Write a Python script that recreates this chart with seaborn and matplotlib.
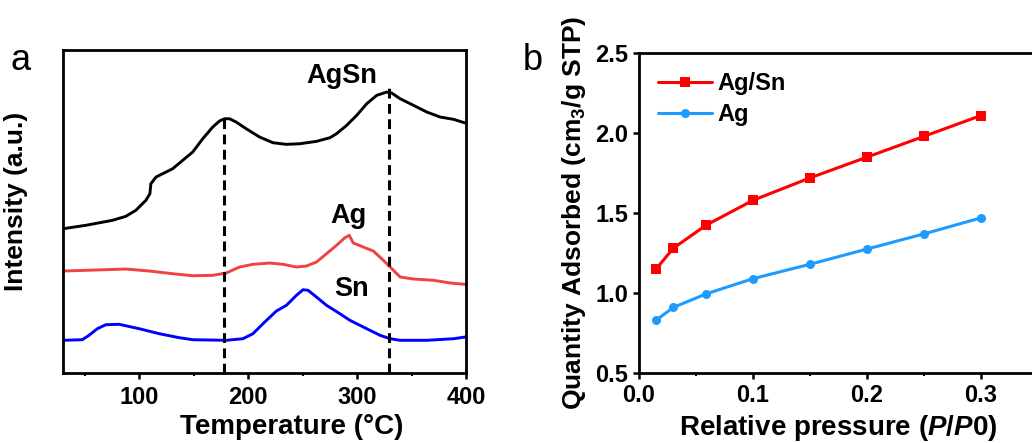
import matplotlib
matplotlib.use("Agg")
import matplotlib.pyplot as plt
import seaborn as sns
import numpy as np
import pandas as pd

# ---------------- data: panel a (TPD, arbitrary units) ----------------
agsn_temp = [30.0, 50.9, 75.4, 87.7, 96.9, 106.1, 109.8, 110.7, 115.4, 124.6, 130.7, 139.9,
             149.1, 158.3, 167.5, 173.7, 178.3, 182.9, 189.0, 198.2, 210.5, 222.8, 235.1,
             247.4, 262.7, 275.0, 281.1, 290.4, 299.6, 308.8, 318.0, 327.2, 331.8, 339.5,
             351.8, 364.0, 376.3, 388.6, 399.4]
agsn_int = [144.3, 147.7, 152.7, 156.7, 162.7, 172.7, 179.3, 189.3, 196.0, 201.0, 204.3, 212.7,
            221.0, 234.3, 246.0, 252.0, 254.3, 254.3, 251.0, 244.3, 236.0, 230.3, 228.7,
            229.3, 231.7, 235.3, 239.3, 247.7, 257.7, 269.3, 277.7, 281.0, 280.0, 274.3,
            267.7, 261.0, 256.0, 253.7, 250.0]

ag_temp = [30.0, 50.9, 87.7, 109.2, 130.7, 149.1, 167.5, 179.8, 192.1, 204.4, 219.7, 232.0,
           244.3, 253.5, 262.7, 271.9, 281.1, 288.8, 292.8, 296.5, 305.7, 314.9, 324.1, 330.3,
           339.5, 351.8, 370.2, 385.6, 399.4]
ag_int = [102.0, 102.7, 104.0, 102.0, 99.3, 97.3, 97.7, 100.0, 106.0, 108.7, 110.0, 108.7,
          106.0, 107.0, 111.0, 119.3, 127.7, 135.3, 137.7, 130.0, 126.0, 122.0, 112.7, 106.0,
          96.0, 94.0, 92.7, 90.0, 88.7]

sn_temp = [30.0, 47.8, 53.9, 61.6, 69.3, 81.6, 100.0, 118.4, 136.8, 149.1, 179.8, 195.2,
           204.4, 213.6, 225.9, 235.1, 244.3, 250.4, 255.0, 262.7, 271.9, 284.2, 293.4,
           308.8, 321.1, 330.3, 339.5, 364.0, 388.6, 399.4]
sn_int = [32.7, 33.3, 37.7, 44.3, 48.3, 48.7, 44.3, 39.3, 35.3, 33.3, 32.7, 34.3,
          39.3, 49.3, 62.0, 67.7, 77.7, 83.3, 82.7, 76.0, 67.7, 59.3, 52.7,
          44.3, 37.7, 34.3, 32.7, 32.7, 34.3, 36.0]

peak_temps = [177.4, 329.0]
peak_tops = [259.3, 285.3]
curve_labels = ["AgSn", "Ag", "Sn"]
label_pos_x = [285.8, 291.9, 295.0]
label_pos_y = [296.7, 156.7, 84.3]

# ---------------- data: panel b (adsorption) ----------------
rel_p = [0.015, 0.030, 0.059, 0.100, 0.150, 0.200, 0.250, 0.300]
agsn_q = [1.15, 1.28, 1.425, 1.58, 1.72, 1.85, 1.98, 2.11]
ag_q = [0.83, 0.91, 0.995, 1.09, 1.18, 1.275, 1.37, 1.47]
series_names = ["Ag/Sn", "Ag"]

# ---------------- style ----------------
sns.set_theme(style="ticks")
plt.rcParams["font.family"] = ["Liberation Sans", "DejaVu Sans"]
plt.rcParams["font.weight"] = "bold"
plt.rcParams["mathtext.fontset"] = "custom"
plt.rcParams["mathtext.rm"] = "Liberation Sans:bold"
plt.rcParams["mathtext.it"] = "Liberation Sans:italic:bold"
plt.rcParams["mathtext.bf"] = "Liberation Sans:bold"
for key in ["text.color", "axes.labelcolor", "xtick.color", "ytick.color", "axes.edgecolor"]:
    plt.rcParams[key] = "black"

fig = plt.figure(figsize=(10.32, 4.43), dpi=100)
axa = fig.add_axes([0.0610, 0.158, 0.3906, 0.729])
axb = fig.add_axes([0.6192, 0.158, 0.3866, 0.722])

lw_curve = 2.1
# panel a
sns.lineplot(x=agsn_temp, y=agsn_int, ax=axa, color="black", lw=lw_curve, sort=False, estimator=None)
sns.lineplot(x=ag_temp, y=ag_int, ax=axa, color="#F04242", lw=lw_curve, sort=False, estimator=None)
sns.lineplot(x=sn_temp, y=sn_int, ax=axa, color="#0000FF", lw=lw_curve, sort=False, estimator=None)
for t, top in zip(peak_temps, peak_tops):
    axa.plot([t, t], [0, top], color="black", lw=2.2, linestyle=(0, (3.2, 1.8)))
for lab, lx, ly in zip(curve_labels, label_pos_x, label_pos_y):
    axa.text(lx, ly, lab, ha="center", va="center", fontsize=19.5, fontweight="bold")

axa.set_xlim(30, 400)
axa.set_ylim(0, 323)
axa.set_xticks([100, 200, 300, 400])
axa.set_xticks([50, 150, 250, 350], minor=True)
axa.set_yticks([])
axa.set_xlabel("Temperature (°C)", fontsize=20, fontweight="bold")
axa.xaxis.set_label_coords(0.568, -0.128)
axa.set_ylabel("Intensity (a.u.)", fontsize=19, fontweight="bold")
axa.yaxis.set_label_coords(-0.087, 0.53)
axa.tick_params(axis="x", which="major", direction="out", length=4, width=1.8, labelsize=17, pad=5)
axa.tick_params(axis="x", which="minor", direction="out", length=2.5, width=1.5)
for sp in axa.spines.values():
    sp.set_linewidth(2.0)
    sp.set_color("black")

# panel b
dfb = pd.DataFrame({
    "p": rel_p * 2,
    "q": agsn_q + ag_q,
    "s": [series_names[0]] * len(rel_p) + [series_names[1]] * len(rel_p),
})
sns.lineplot(data=dfb, x="p", y="q", hue="s", style="s",
             palette={"Ag/Sn": "#FF0000", "Ag": "#1E9BFF"},
             markers={"Ag/Sn": "s", "Ag": "o"}, dashes=False,
             markersize=6.5, markeredgewidth=0, lw=2.2, ax=axb)
axb.set_xlim(0, 0.35)
axb.set_ylim(0.5, 2.5)
axb.set_xticks([0.0, 0.1, 0.2, 0.3])
axb.set_xticks([0.05, 0.15, 0.25], minor=True)
axb.set_yticks([0.5, 1.0, 1.5, 2.0, 2.5])
axb.set_xticklabels(["0.0", "0.1", "0.2", "0.3"])
axb.set_yticklabels(["0.5", "1.0", "1.5", "2.0", "2.5"])
axb.set_xlabel("Relative pressure ($\\it{P/P0}$)", fontsize=20, fontweight="bold", labelpad=4)
axb.set_ylabel("Quantity Adsorbed (cm$_3$/g STP)", fontsize=19, fontweight="bold", labelpad=5)
axb.tick_params(axis="both", which="major", direction="out", length=4, width=1.8, labelsize=17, pad=4)
axb.tick_params(axis="both", which="minor", direction="out", length=2.5, width=1.5)
for sp in axb.spines.values():
    sp.set_linewidth(2.0)
    sp.set_color("black")
leg = axb.legend(loc="upper left", frameon=False, fontsize=17, handlelength=2.3,
                 handletextpad=0.2, labelspacing=0.35, borderaxespad=0.4)
for t in leg.get_texts():
    t.set_fontweight("bold")

fig.text(0.010, 0.842, "a", fontsize=26, fontweight="normal", va="baseline")
fig.text(0.507, 0.842, "b", fontsize=26, fontweight="normal", va="baseline")

fig.savefig("out.png", dpi=100)
